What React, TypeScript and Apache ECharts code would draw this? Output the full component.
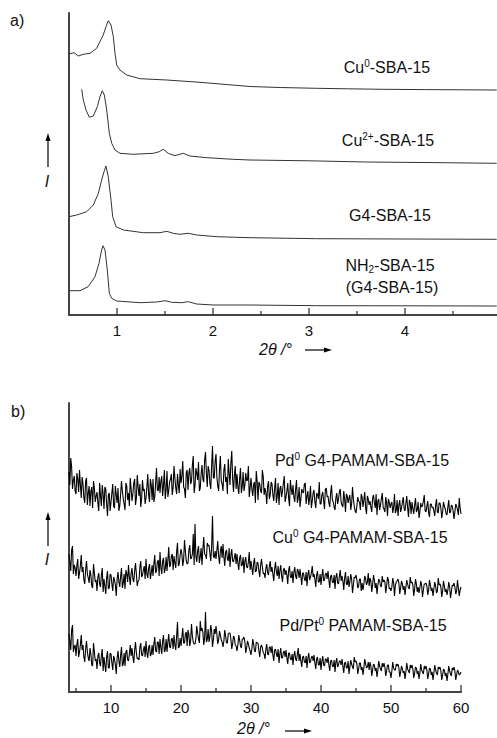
import React, { useEffect, useRef } from "react";
import * as echarts from "echarts";

// ---------- Panel a: low-angle XRD ----------
const A_X_TICKS = [1, 2, 3, 4, 5];
const A_X_MINOR = [1.5, 2.5, 3.5, 4.5];

const A_CU0_X = [0.5, 0.552, 0.597, 0.649, 0.719, 0.788, 0.83, 0.857, 0.885, 0.909, 0.9375, 0.962, 0.979, 0.997, 1.031, 1.1, 1.24, 1.518, 1.865, 2.385, 2.7, 3.08, 3.4, 3.77, 4.2, 4.6, 4.955];
const A_CU0_Y = [261, 262.3, 259, 260.7, 261.7, 266.7, 275, 280, 288.3, 294.3, 290, 278.3, 261.7, 250, 245, 240, 236.3, 235, 232.7, 228.5, 227.5, 226.7, 226.2, 225.7, 225.4, 225.2, 225];

const A_CU2_X = [0.632, 0.649, 0.677, 0.712, 0.753, 0.795, 0.823, 0.847, 0.868, 0.893, 0.92, 0.945, 0.979, 1.031, 1.17, 1.378, 1.44, 1.48, 1.534, 1.604, 1.69, 1.76, 1.934, 2.21, 2.385, 3.0, 3.6, 4.3, 4.955];
const A_CU2_Y = [225.7, 215, 205, 197.7, 199, 208.3, 218.3, 224.3, 220, 205, 181.7, 171.7, 165, 161.7, 160.7, 161.7, 163.3, 165.7, 161.7, 159.3, 161.7, 159, 157.3, 155.7, 155, 154.2, 153, 152.4, 151.7];

const A_G4_X = [0.5, 0.58, 0.684, 0.753, 0.806, 0.84, 0.865, 0.885, 0.909, 0.9375, 0.955, 0.99, 1.066, 1.274, 1.448, 1.518, 1.586, 1.656, 1.743, 1.83, 2.04, 2.385, 3.08, 4.0, 4.955];
const A_G4_Y = [98.3, 100, 103.3, 110, 121.7, 135, 143.3, 149, 138.3, 115, 98.3, 88.3, 85, 82.3, 82.3, 83.7, 81.7, 80.7, 81.7, 80, 78.3, 77.3, 76.3, 76, 75.7];

const A_NH2_X = [0.5, 0.615, 0.7, 0.771, 0.8125, 0.84, 0.854, 0.875, 0.899, 0.92, 0.945, 0.997, 1.24, 1.413, 1.5, 1.57, 1.674, 1.743, 1.83, 2.0, 2.385, 3.08, 4.0, 4.955];
const A_NH2_Y = [24.3, 24.3, 28.3, 38.3, 51.7, 65, 69.3, 65, 45, 21.7, 16.7, 14, 12.3, 13, 14.3, 12.7, 12.3, 13.3, 11, 10, 10, 9.3, 9.2, 9];

// ---------- Panel b: wide-angle XRD ----------
// *_ON: readings at 4.00, 4.25, ... 60.00 deg; *_MID: readings at 4.125, 4.375, ... 59.875 deg
const B_START = 4;
const B_STEP = 0.25;
const B_X_TICKS = [10, 20, 30, 40, 50, 60];
const B_X_MINOR = [5, 15, 25, 35, 45, 55];

const B_PD_ON = [
  220, 234, 203, 216, 198, 213, 222, 194, 208, 189, 214, 199, 186, 205, 211, 190,
  200, 181, 196, 207, 183, 203, 176, 199, 190, 208, 184, 197, 204, 186, 211, 193,
  182, 206, 199, 214, 191, 209, 187, 217, 196, 185, 212, 203, 194, 218, 190, 207,
  213, 195, 224, 201, 199, 216, 207, 193, 221, 202, 213, 197, 226, 204, 218, 199,
  209, 231, 203, 219, 202, 224, 211, 236, 206, 219, 230, 204, 227, 210, 240, 205,
  222, 203, 246, 214, 238, 206, 223, 211, 201, 228, 215, 233, 207, 241, 200, 226,
  218, 198, 224, 206, 201, 219, 212, 195, 214, 196, 210, 221, 192, 208, 199, 215,
  204, 188, 211, 197, 208, 191, 214, 196, 187, 206, 201, 216, 195, 209, 186, 203,
  207, 190, 212, 194, 185, 203, 199, 209, 196, 187, 206, 191, 202, 184, 197, 210,
  188, 200, 183, 204, 196, 185, 207, 190, 182, 199, 193, 203, 187, 201, 180, 196,
  194, 182, 205, 186, 179, 195, 190, 198, 185, 200, 178, 193, 191, 180, 197, 184,
  177, 193, 187, 199, 183, 195, 176, 190, 188, 179, 198, 182, 176, 192, 184, 195,
  181, 196, 175, 189, 190, 178, 194, 182, 174, 189, 186, 197, 180, 191, 175, 188,
  185, 176, 193, 179, 189, 174, 190, 183, 177, 192, 180, 186, 173, 188, 182, 194,
  178,
];
const B_PD_MID = [
  207, 225, 212, 201, 219, 200, 207, 215, 194, 211, 187, 206, 201, 184, 204, 196,
  189, 209, 186, 198, 205, 188, 197, 181, 199, 186, 206, 189, 181, 198, 201, 188,
  209, 192, 186, 203, 198, 213, 194, 205, 208, 193, 201, 188, 205, 197, 213, 192,
  190, 209, 202, 215, 211, 196, 222, 203, 195, 210, 218, 204, 214, 198, 207, 223,
  216, 205, 194, 222, 219, 208, 227, 199, 224, 212, 201, 218, 213, 232, 219, 226,
  209, 226, 214, 231, 215, 201, 236, 208, 222, 210, 198, 219, 229, 213, 217, 203,
  205, 213, 199, 220, 207, 211, 226, 204, 203, 208, 189, 211, 210, 201, 222, 197,
  199, 206, 193, 210, 197, 204, 189, 209, 203, 195, 209, 190, 201, 194, 212, 197,
  195, 203, 189, 205, 193, 200, 208, 188, 201, 194, 184, 199, 190, 199, 193, 188,
  197, 191, 203, 195, 189, 199, 192, 185, 194, 188, 200, 190, 185, 193, 198, 189,
  197, 188, 193, 181, 186, 191, 182, 195, 192, 184, 196, 187, 185, 194, 189, 198,
  191, 182, 193, 185, 180, 189, 193, 184, 190, 185, 179, 192, 187, 180, 190, 183,
  189, 184, 192, 178, 183, 187, 180, 190, 180, 185, 191, 181, 186, 179, 188, 184,
  181, 187, 180, 189, 184, 180, 186, 178, 185, 179, 187, 181, 180, 186, 177, 184,
];

const B_CU_ON = [
  138, 121, 146, 127, 116, 133, 119, 137, 125, 108, 131, 114, 122, 106, 128, 110,
  101, 119, 105, 124, 113, 98, 121, 104, 117, 101, 112, 96, 120, 105, 124, 109,
  103, 118, 127, 107, 124, 110, 129, 106, 112, 131, 117, 126, 133, 114, 128, 119,
  116, 137, 121, 132, 140, 118, 134, 123, 121, 145, 127, 138, 136, 124, 149, 128,
  143, 126, 152, 131, 129, 147, 134, 158, 168, 130, 146, 135, 127, 155, 137, 149,
  147, 131, 176, 134, 133, 151, 128, 146, 148, 126, 142, 131, 125, 143, 130, 139,
  138, 122, 137, 127, 119, 135, 124, 140, 131, 117, 134, 121, 129, 115, 133, 118,
  114, 128, 117, 131, 125, 111, 130, 116, 113, 127, 110, 124, 122, 108, 126, 114,
  109, 125, 113, 121, 123, 107, 119, 111, 106, 122, 115, 126, 118, 105, 121, 110,
  107, 123, 112, 119, 121, 104, 117, 109, 103, 119, 108, 122, 116, 102, 120, 107,
  105, 118, 99, 115, 117, 104, 113, 101, 102, 116, 107, 119, 114, 100, 117, 104,
  98, 113, 106, 116, 112, 99, 115, 103, 101, 114, 96, 110, 113, 98, 111, 102,
  97, 112, 104, 115, 110, 96, 113, 100, 99, 111, 95, 108, 109, 97, 112, 101,
  96, 110, 99, 114, 108, 95, 111, 100, 97, 110, 94, 107, 109, 98, 112, 96,
  105,
];
const B_CU_MID = [
  130, 142, 118, 124, 127, 113, 126, 120, 112, 122, 118, 109, 117, 104, 119, 112,
  115, 108, 117, 100, 106, 114, 103, 118, 108, 115, 107, 113, 110, 116, 104, 118,
  122, 110, 115, 119, 113, 121, 118, 111, 125, 115, 122, 113, 118, 124, 113, 127,
  128, 119, 130, 116, 124, 131, 119, 135, 132, 125, 136, 122, 129, 140, 126, 137,
  138, 132, 141, 128, 142, 133, 138, 127, 136, 141, 129, 144, 143, 138, 133, 146,
  139, 145, 136, 141, 142, 136, 141, 134, 135, 140, 133, 144, 137, 131, 135, 128,
  129, 134, 126, 135, 131, 125, 130, 122, 124, 129, 120, 130, 121, 127, 125, 119,
  124, 119, 126, 120, 118, 123, 120, 126, 121, 116, 122, 117, 117, 122, 115, 121,
  120, 116, 123, 114, 115, 119, 113, 120, 118, 112, 119, 115, 113, 117, 110, 118,
  116, 111, 118, 113, 112, 116, 110, 117, 115, 109, 116, 111, 111, 114, 108, 116,
  110, 113, 107, 114, 112, 106, 113, 109, 108, 113, 110, 106, 111, 107, 112, 109,
  107, 111, 105, 110, 110, 106, 112, 104, 105, 109, 107, 111, 109, 104, 108, 106,
  105, 108, 103, 109, 107, 103, 108, 105, 104, 107, 102, 108, 106, 102, 107, 104,
  103, 106, 101, 107, 105, 101, 106, 103, 102, 105, 100, 106, 105, 101, 104, 102,
];

const B_PDPT_ON = [
  58, 42, 67, 45, 36, 53, 40, 57, 47, 30, 51, 34, 44, 27, 49, 31,
  23, 39, 26, 43, 35, 20, 41, 24, 38, 22, 33, 18, 41, 25, 45, 28,
  26, 42, 31, 47, 44, 29, 50, 33, 32, 49, 36, 46, 51, 34, 47, 38,
  37, 55, 40, 50, 53, 38, 57, 42, 40, 58, 44, 54, 57, 42, 70, 45,
  46, 64, 49, 60, 62, 46, 68, 50, 48, 66, 53, 71, 64, 47, 80, 52,
  50, 67, 45, 63, 66, 48, 61, 52, 45, 62, 49, 58, 59, 43, 56, 47,
  41, 57, 46, 53, 55, 39, 51, 44, 37, 53, 41, 50, 49, 35, 47, 39,
  33, 48, 37, 45, 46, 31, 43, 35, 29, 44, 34, 41, 42, 28, 39, 32,
  27, 41, 31, 44, 38, 25, 36, 29, 24, 39, 30, 36, 37, 23, 35, 27,
  22, 36, 26, 33, 35, 21, 32, 25, 20, 34, 27, 31, 33, 19, 30, 24,
  18, 32, 25, 35, 31, 18, 29, 22, 17, 33, 24, 30, 30, 16, 28, 21,
  15, 31, 23, 29, 29, 16, 27, 20, 14, 30, 22, 28, 28, 15, 26, 19,
  13, 29, 21, 27, 27, 14, 25, 18, 13, 28, 20, 26, 26, 13, 24, 17,
  12, 27, 19, 25, 25, 12, 23, 16, 11, 26, 18, 24, 25, 12, 22, 17,
  20,
];
const B_PDPT_MID = [
  51, 62, 40, 47, 48, 35, 47, 42, 35, 43, 40, 31, 38, 26, 40, 33,
  36, 29, 37, 21, 27, 35, 24, 39, 29, 36, 27, 34, 31, 37, 26, 39,
  40, 32, 38, 36, 35, 42, 39, 34, 45, 37, 42, 35, 39, 45, 36, 47,
  48, 41, 50, 38, 44, 51, 40, 53, 50, 45, 53, 43, 47, 56, 44, 54,
  55, 49, 58, 46, 58, 51, 56, 48, 53, 59, 49, 61, 60, 54, 50, 63,
  55, 61, 52, 58, 58, 52, 57, 50, 51, 56, 49, 59, 53, 48, 54, 46,
  47, 52, 44, 53, 50, 44, 48, 41, 43, 48, 40, 49, 41, 45, 44, 38,
  43, 38, 45, 39, 37, 42, 38, 43, 38, 34, 40, 35, 34, 39, 33, 38,
  37, 33, 38, 31, 31, 35, 30, 36, 34, 29, 35, 31, 29, 33, 27, 34,
  31, 27, 33, 29, 27, 31, 26, 32, 30, 25, 31, 27, 26, 29, 24, 31,
  25, 28, 23, 30, 28, 23, 29, 25, 24, 28, 25, 22, 26, 22, 27, 24,
  22, 26, 21, 25, 25, 21, 27, 20, 21, 24, 22, 26, 24, 20, 23, 21,
  20, 23, 19, 24, 23, 19, 24, 21, 19, 22, 18, 23, 22, 18, 23, 20,
  19, 22, 17, 23, 21, 17, 22, 19, 18, 21, 16, 22, 21, 17, 20, 18,
];

const FONT = "Liberation Sans, Arial, sans-serif";
const TXT = "#111";
const AXIS = "#444";

function pairs(xs: number[], ys: number[]) {
  return xs.map((x, i) => [x, ys[i]]);
}
function scan(on: number[], mid: number[]) {
  const out: number[][] = [];
  on.forEach((y, i) => {
    const x = B_START + i * B_STEP;
    out.push([x, y]);
    if (i < mid.length) out.push([x + B_STEP / 2, mid[i]]);
  });
  return out;
}

function xAx(gi: number, min: number, max: number, labels: number[]) {
  return {
    type: "value",
    gridIndex: gi,
    position: "bottom",
    min,
    max,
    axisLine: { show: true, onZero: false, lineStyle: { color: AXIS, width: 2 } },
    axisTick: { show: false },
    axisLabel: { show: true, customValues: labels, showMaxLabel: true, showMinLabel: true, fontSize: 15, color: TXT, fontFamily: FONT, margin: 8 },
    splitLine: { show: false },
  };
}
function yAx(gi: number, max: number) {
  return {
    type: "value",
    gridIndex: gi,
    min: 0,
    max,
    axisLine: { show: true, lineStyle: { color: AXIS, width: 2 } },
    axisTick: { show: false },
    axisLabel: { show: false },
    splitLine: { show: false },
  };
}
// inside tick marks drawn as thin rect symbols sitting on the axis (y = 0)
function tickSeries(ai: number, vals: number[], len: number) {
  return {
    type: "scatter",
    xAxisIndex: ai,
    yAxisIndex: ai,
    silent: true,
    clip: false,
    z: 5,
    symbol: "rect",
    symbolSize: [1.6, len],
    symbolOffset: [0, -len / 2],
    itemStyle: { color: "#333" },
    data: vals.map((v) => [v, 0]),
  };
}

function label(text: string, x: number, y: number) {
  return {
    type: "text",
    x,
    y,
    silent: true,
    style: {
      text,
      align: "center",
      verticalAlign: "middle",
      fill: TXT,
      fontSize: 16,
      fontFamily: FONT,
      rich: {
        n: { fontSize: 16, fontFamily: FONT, fill: TXT, lineHeight: 18 },
        sup: { fontSize: 10, fontFamily: FONT, fill: TXT, lineHeight: 10, verticalAlign: "top" },
        sub: { fontSize: 10, fontFamily: FONT, fill: TXT, lineHeight: 10, verticalAlign: "bottom" },
      },
    },
  };
}

function vArrow(x: number, yTop: number, yBottom: number) {
  return [
    { type: "line", shape: { x1: x, y1: yBottom, x2: x, y2: yTop + 6 }, style: { stroke: "#000", lineWidth: 1.2 } },
    { type: "polygon", shape: { points: [[x, yTop], [x - 2.5, yTop + 8], [x + 2.5, yTop + 8]] }, style: { fill: "#000" } },
  ];
}
function hArrow(xLeft: number, xRight: number, y: number) {
  return [
    { type: "line", shape: { x1: xLeft, y1: y, x2: xRight - 6, y2: y }, style: { stroke: "#000", lineWidth: 1.2 } },
    { type: "polygon", shape: { points: [[xRight, y], [xRight - 8, y - 2.5], [xRight - 8, y + 2.5]] }, style: { fill: "#000" } },
  ];
}
function italicText(text: string, x: number, y: number, align = "left") {
  return {
    type: "text",
    x,
    y,
    silent: true,
    style: { text, align, verticalAlign: "middle", fill: TXT, fontSize: 16, fontStyle: "italic", fontFamily: FONT },
  };
}

export default function App() {
  const ref = useRef<HTMLDivElement>(null);
  useEffect(() => {
    if (!ref.current) return;
    const chart = echarts.init(ref.current, undefined, { renderer: "svg" });
    const lineA = { type: "line", xAxisIndex: 0, yAxisIndex: 0, showSymbol: false, symbol: "none", lineStyle: { color: "#333", width: 1 }, silent: true };
    const lineB = { type: "line", xAxisIndex: 1, yAxisIndex: 1, showSymbol: false, symbol: "none", lineStyle: { color: "#000", width: 1.1 }, silent: true };
    chart.setOption({
      animation: false,
      backgroundColor: "#fff",
      grid: [
        { left: 69, top: 13, width: 432, height: 302 },
        { left: 69, top: 403, width: 392, height: 289 },
      ],
      xAxis: [xAx(0, 0.5, 5, A_X_TICKS), xAx(1, 4, 60, B_X_TICKS)],
      yAxis: [yAx(0, 302), yAx(1, 289)],
      series: [
        { ...lineA, name: "Cu0-SBA-15", data: pairs(A_CU0_X, A_CU0_Y) },
        { ...lineA, name: "Cu2+-SBA-15", data: pairs(A_CU2_X, A_CU2_Y) },
        { ...lineA, name: "G4-SBA-15", data: pairs(A_G4_X, A_G4_Y) },
        { ...lineA, name: "NH2-SBA-15", data: pairs(A_NH2_X, A_NH2_Y) },
        { ...lineB, name: "Pd0 G4-PAMAM-SBA-15", data: scan(B_PD_ON, B_PD_MID) },
        { ...lineB, name: "Cu0 G4-PAMAM-SBA-15", data: scan(B_CU_ON, B_CU_MID) },
        { ...lineB, name: "Pd/Pt0 PAMAM-SBA-15", data: scan(B_PDPT_ON, B_PDPT_MID) },
        tickSeries(0, A_X_TICKS, 7),
        tickSeries(0, A_X_MINOR, 4),
        tickSeries(1, B_X_TICKS, 7),
        tickSeries(1, B_X_MINOR, 4),
      ],
      graphic: [
        { type: "text", x: 10, y: 20, silent: true, style: { text: "a)", align: "left", verticalAlign: "middle", fill: TXT, fontSize: 16, fontFamily: FONT } },
        { type: "text", x: 11, y: 411, silent: true, style: { text: "b)", align: "left", verticalAlign: "middle", fill: TXT, fontSize: 16, fontFamily: FONT } },
        label("{n|Cu}{sup|0}{n|-SBA-15}", 387, 67),
        label("{n|Cu}{sup|2+}{n|-SBA-15}", 388, 140),
        label("{n|G4-SBA-15}", 390, 215),
        label("{n|NH}{sub|2}{n|-SBA-15}", 390, 265),
        label("{n|(G4-SBA-15)}", 392, 287),
        label("{n|Pd}{sup|0}{n| G4-PAMAM-SBA-15}", 362, 460),
        label("{n|Cu}{sup|0}{n| G4-PAMAM-SBA-15}", 360, 537),
        label("{n|Pd/Pt}{sup|0}{n| PAMAM-SBA-15}", 363, 625),
        ...vArrow(48, 133, 167),
        italicText("I", 47, 181, "center"),
        ...vArrow(48, 512, 546),
        italicText("I", 47, 559, "center"),
        italicText("2θ /°", 259, 349),
        ...hArrow(305, 332, 350),
        italicText("2θ /°", 237, 728),
        ...hArrow(285, 312, 731),
      ],
    });
    return () => chart.dispose();
  }, []);
  return (
    <div style={{ position: "absolute", left: 0, top: 0, width: 497, height: 738, overflow: "hidden", background: "#fff" }}>
      <div ref={ref} style={{ width: 510, height: 738 }} />
    </div>
  );
}
